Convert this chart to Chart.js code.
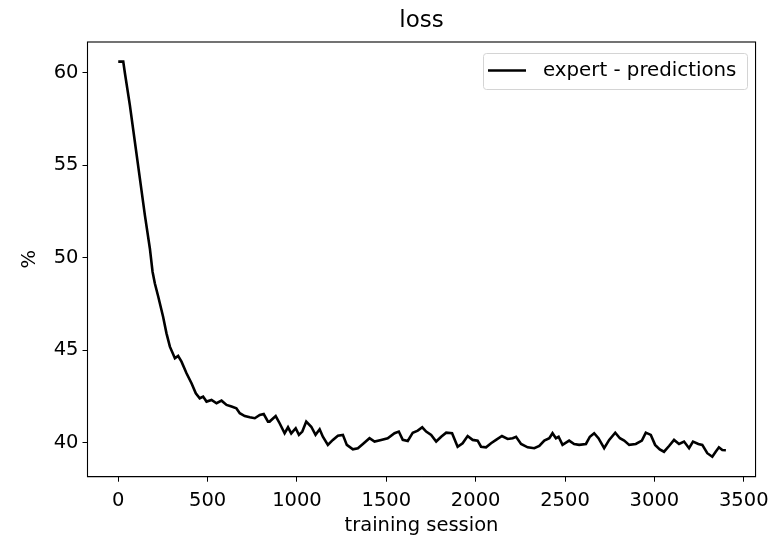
<!DOCTYPE html>
<html>
<head>
<meta charset="utf-8">
<script src="https://cdn.jsdelivr.net/npm/chart.js@4.4.0/dist/chart.umd.min.js"></script>
<style>
  html, body { margin: 0; padding: 0; background: #fff; }
  #wrap { width: 776px; height: 541px; }
</style>
</head>
<body>
<div id="wrap"><canvas id="lossChart" width="776" height="541"></canvas></div>
<script>
// values
const sessions = [0, 28, 37, 65, 93, 121, 149, 177, 192, 205, 224, 251, 270, 289, 317, 335, 354, 382, 410, 434,
  456, 475, 494, 522, 550, 578, 606, 634, 661, 680, 708, 736, 764, 792, 814, 838, 847, 881, 903, 931,
  950, 968, 993, 1011, 1030, 1052, 1080, 1104, 1127, 1145, 1173, 1201, 1229, 1257, 1279, 1313, 1341, 1369, 1406, 1434,
  1471, 1508, 1546, 1570, 1592, 1620, 1648, 1676, 1701, 1723, 1751, 1779, 1807, 1835, 1868, 1899, 1927, 1955, 1983, 2011,
  2030, 2058, 2086, 2114, 2147, 2179, 2207, 2226, 2254, 2291, 2328, 2356, 2384, 2412, 2430, 2449, 2464, 2486, 2523, 2551,
  2579, 2617, 2639, 2663, 2687, 2719, 2747, 2781, 2807, 2831, 2859, 2896, 2930, 2952, 2980, 3004, 3030, 3054, 3082, 3110,
  3138, 3166, 3194, 3216, 3246, 3268, 3296, 3324, 3343, 3361, 3380, 3400];
const expertLoss = [60.6, 60.6, 60.0, 58.25, 56.27, 54.29, 52.3, 50.5, 49.24, 48.6, 47.89, 46.81, 45.91, 45.19, 44.56, 44.69, 44.38, 43.75, 43.21, 42.67,
  42.4, 42.49, 42.22, 42.31, 42.13, 42.27, 42.04, 41.95, 41.86, 41.59, 41.44, 41.37, 41.32, 41.5, 41.55, 41.14, 41.14, 41.44, 41.05, 40.51,
  40.83, 40.5, 40.78, 40.42, 40.6, 41.14, 40.86, 40.42, 40.72, 40.32, 39.88, 40.15, 40.38, 40.42, 39.88, 39.64, 39.7, 39.93, 40.24, 40.06,
  40.15, 40.24, 40.51, 40.6, 40.15, 40.09, 40.54, 40.65, 40.83, 40.6, 40.42, 40.06, 40.32, 40.54, 40.51, 39.78, 39.97, 40.36, 40.15, 40.11,
  39.78, 39.75, 39.97, 40.15, 40.36, 40.2, 40.24, 40.32, 39.93, 39.75, 39.7, 39.82, 40.11, 40.24, 40.51, 40.24, 40.32, 39.88, 40.11, 39.93,
  39.88, 39.93, 40.32, 40.51, 40.24, 39.7, 40.15, 40.54, 40.24, 40.11, 39.88, 39.93, 40.11, 40.54, 40.42, 39.88, 39.64, 39.51, 39.82, 40.15,
  39.93, 40.06, 39.7, 40.06, 39.93, 39.88, 39.43, 39.24, 39.51, 39.75, 39.6, 39.59];
const xTicks = [0, 500, 1000, 1500, 2000, 2500, 3000, 3500];
const yTicks = [40, 45, 50, 55, 60];

const FONT = 'DejaVu Sans';
const FS = 19.5;

// axes frame + title centred over the axes, like matplotlib
const framePlugin = {
  id: 'frame',
  afterDraw(chart) {
    const {ctx, chartArea: a} = chart;
    ctx.save();
    ctx.strokeStyle = '#000';
    ctx.lineWidth = 1.1;
    ctx.strokeRect(a.left, a.top, a.right - a.left, a.bottom - a.top);
    ctx.fillStyle = '#000';
    ctx.font = '23px "' + FONT + '"';
    ctx.textAlign = 'center';
    ctx.textBaseline = 'middle';
    ctx.fillText('loss', (a.left + a.right) / 2, 21);
    ctx.restore();
  }
};

// legend box in the upper right corner
const legendBox = {
  id: 'legendBox',
  afterDatasetsDraw(chart) {
    const ctx = chart.ctx;
    const ds = chart.data.datasets[0];
    const x = 483, y = 53, w = 264, h = 36, r = 3;
    ctx.save();
    ctx.beginPath();
    ctx.roundRect(x + 0.5, y + 0.5, w, h, r);
    ctx.fillStyle = 'rgba(255,255,255,0.8)';
    ctx.fill();
    ctx.strokeStyle = '#d4d4d4';
    ctx.lineWidth = 1;
    ctx.stroke();
    ctx.beginPath();
    ctx.moveTo(488, 70.5);
    ctx.lineTo(526, 70.5);
    ctx.strokeStyle = ds.borderColor;
    ctx.lineWidth = ds.borderWidth;
    ctx.stroke();
    ctx.fillStyle = '#000';
    ctx.font = '19.8px "' + FONT + '"';
    ctx.textBaseline = 'middle';
    ctx.fillText(ds.label, 543, 71);
    ctx.restore();
  }
};

const ctx = document.getElementById('lossChart');
const lossChart = new Chart(ctx, {
  type: 'line',
  data: {
    datasets: [{
      label: 'expert - predictions',
      data: sessions.map((s, i) => ({x: s, y: expertLoss[i]})),
      borderColor: '#000',
      borderWidth: 2.6,
      pointRadius: 0,
      tension: 0,
      fill: false
    }]
  },
  options: {
    responsive: false,
    animation: false,
    events: [],
    layout: {padding: {left: 0, right: 19.3, top: 42, bottom: 0}},
    plugins: {
      legend: {display: false},
      tooltip: {enabled: false},
      title: {display: false}
    },
    scales: {
      x: {
        type: 'linear',
        min: -172,
        max: 3566,
        afterBuildTicks(s) { s.ticks = xTicks.map(v => ({value: v})); },
        afterFit(s) { s.height = 64.3; },
        ticks: {color: '#000', padding: 7.1, font: {family: FONT, size: FS}, callback: v => String(v)},
        grid: {drawOnChartArea: false, tickLength: 5, color: '#000', lineWidth: 1},
        border: {color: '#000'},
        title: {display: true, text: 'training session', color: '#000',
          font: {family: FONT, size: FS}, padding: {top: 0, bottom: 3.3}}
      },
      y: {
        min: 38.16,
        max: 61.66,
        afterBuildTicks(s) { s.ticks = yTicks.map(v => ({value: v})); },
        afterFit(s) { s.width = 87.5; },
        ticks: {color: '#000', padding: 4, font: {family: FONT, size: FS}, callback: v => String(v)},
        grid: {drawOnChartArea: false, tickLength: 5, color: '#000', lineWidth: 1},
        border: {color: '#000'},
        title: {display: true, text: '%', color: '#000',
          font: {family: FONT, size: FS}, padding: {top: 18.3, bottom: 0}}
      }
    }
  },
  plugins: [framePlugin, legendBox]
});
</script>
</body>
</html>
